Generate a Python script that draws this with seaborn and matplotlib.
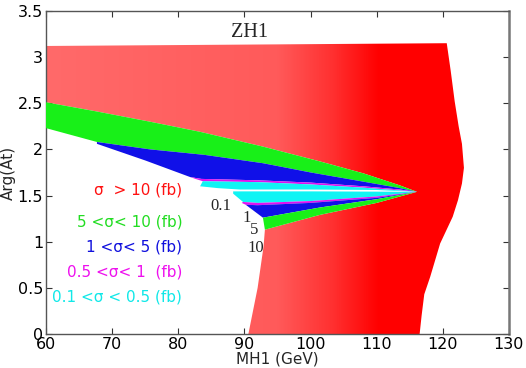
import numpy as np
import matplotlib
matplotlib.use("Agg")
import matplotlib.pyplot as plt
import seaborn as sns
from matplotlib.colors import LinearSegmentedColormap

# boundary curves (MH1 in GeV, Arg(At))
# outer edge of the red (> 10 fb) region
red_top_x = [60.0, 120.6]
red_top_y = [3.12, 3.15]
red_right_x = [121.2, 121.8, 122.4, 122.9, 123.2, 122.9, 122.3, 121.5, 119.6, 118.1, 117.2, 116.8, 116.5]
red_right_y = [2.85, 2.52, 2.25, 2.06, 1.80, 1.63, 1.45, 1.27, 0.98, 0.62, 0.43, 0.20, 0.00]
red_low_x = [90.6, 91.3, 92.0, 92.5, 92.9, 93.1]
red_low_y = [0.00, 0.25, 0.50, 0.75, 0.95, 1.13]

# upper band
up_green_top_x = [60.0, 67.7, 75.7, 83.3, 92.8, 101.4, 108.0, 113.5, 116.1]
up_green_top_y = [2.51, 2.41, 2.30, 2.19, 2.03, 1.87, 1.74, 1.61, 1.54]
up_green_bot_x = [60.0, 67.7, 75.7, 84.0, 92.8, 100.0, 108.0, 113.5, 116.1]
up_green_bot_y = [2.23, 2.08, 2.00, 1.94, 1.85, 1.75, 1.65, 1.58, 1.54]
up_blue_bot_x = [67.7, 75.0, 81.8, 83.5, 92.0, 100.0, 108.0, 113.5, 116.1]
up_blue_bot_y = [2.06, 1.88, 1.70, 1.68, 1.665, 1.64, 1.60, 1.565, 1.54]
up_mag_bot_x = [82.6, 83.7, 92.0, 100.0, 108.0, 113.5, 116.1]
up_mag_bot_y = [1.68, 1.655, 1.645, 1.62, 1.585, 1.555, 1.54]
up_cyan_bot_x = [83.3, 86.0, 89.3, 100.0, 110.0, 116.1]
up_cyan_bot_y = [1.60, 1.58, 1.565, 1.565, 1.56, 1.54]

# lower band
lo_cyan_top_x = [88.3, 100.0, 110.0, 116.1]
lo_cyan_top_y = [1.545, 1.545, 1.542, 1.54]
lo_cyan_bot_x = [88.3, 89.8, 92.0, 100.0, 110.0, 116.1]
lo_cyan_bot_y = [1.52, 1.43, 1.42, 1.44, 1.49, 1.54]
lo_mag_bot_x = [89.6, 90.2, 92.0, 100.0, 110.0, 116.1]
lo_mag_bot_y = [1.42, 1.40, 1.395, 1.42, 1.475, 1.54]
lo_blue_bot_x = [90.2, 92.8, 101.4, 110.0, 116.1]
lo_blue_bot_y = [1.40, 1.26, 1.37, 1.46, 1.54]
lo_green_bot_x = [92.8, 93.1, 101.4, 110.0, 116.1]
lo_green_bot_y = [1.26, 1.13, 1.29, 1.42, 1.54]

legend_labels = ["\u03c3  > 10 (fb)", "5 <\u03c3< 10 (fb)", "1 <\u03c3< 5 (fb)",
                 "0.5 <\u03c3< 1  (fb)", "0.1 <\u03c3 < 0.5 (fb)"]
legend_colors = ["#ff1010", "#22dd22", "#1010dd", "#ee10ee", "#10e8e8"]
legend_y = [1.56, 1.21, 0.94, 0.67, 0.40]

contour_labels = ["0.1", "1", "5", "10"]
contour_x = [86.5, 90.3, 91.4, 91.7]
contour_y = [1.39, 1.26, 1.13, 0.93]


def band(ax, top_x, top_y, bot_x, bot_y, color):
    px = list(top_x) + list(bot_x)[::-1]
    py = list(top_y) + list(bot_y)[::-1]
    return ax.fill(px, py, color=color, lw=0, zorder=3)


sns.set_theme(style="ticks")
plt.rcParams['font.family'] = ['DejaVu Sans']

fig = plt.figure(figsize=(5.26, 3.68), dpi=100)
ax = fig.add_axes([0.0875, 0.0924, 0.880, 0.878])

# red region: outer edge, then back along the outside of the bands
rx = red_top_x + red_right_x + red_low_x + lo_green_bot_x[1:] + up_green_top_x[::-1]
ry = red_top_y + red_right_y + red_low_y + lo_green_bot_y[1:] + up_green_top_y[::-1]
red_patch = ax.fill(rx, ry, facecolor="none", lw=0, zorder=2)[0]
cmap = LinearSegmentedColormap.from_list(
    "redfade", [(0.0, "#ff6a6a"), (0.5, "#ff5a5a"), (0.62, "#ff3030"), (0.72, "#ff0000"), (1.0, "#ff0000")])
grad = np.linspace(0, 1, 256).reshape(1, -1)
im = ax.imshow(grad, extent=[60, 130, 0, 3.5], aspect="auto", cmap=cmap, origin="lower", zorder=1)
im.set_clip_path(red_patch)

# upper band
band(ax, up_green_top_x, up_green_top_y, up_green_bot_x, up_green_bot_y, "#18f018")
band(ax, up_green_bot_x[1:], up_green_bot_y[1:], up_blue_bot_x, up_blue_bot_y, "#1010e8")
band(ax, up_blue_bot_x[2:], up_blue_bot_y[2:], up_mag_bot_x, up_mag_bot_y, "#e010f0")
band(ax, up_mag_bot_x[1:], up_mag_bot_y[1:], up_cyan_bot_x, up_cyan_bot_y, "#10f4f4")

# lower band
band(ax, lo_cyan_top_x, lo_cyan_top_y, lo_cyan_bot_x, lo_cyan_bot_y, "#10f4f4")
band(ax, lo_cyan_bot_x[1:], lo_cyan_bot_y[1:], lo_mag_bot_x, lo_mag_bot_y, "#e010f0")
band(ax, lo_mag_bot_x[1:], lo_mag_bot_y[1:], lo_blue_bot_x, lo_blue_bot_y, "#1010e8")
band(ax, lo_blue_bot_x[1:], lo_blue_bot_y[1:], lo_green_bot_x[1:], lo_green_bot_y[1:], "#18f018")

# labels
ax.text(90.7, 3.27, "ZH1", family="Liberation Serif", fontsize=14.5, ha="center", va="center", zorder=5)
for lab, col, yy in zip(legend_labels, legend_colors, legend_y):
    ax.text(80.6, yy, lab, color=col, fontsize=11, ha="right", va="center", zorder=5)
for lab, xx, yy in zip(contour_labels, contour_x, contour_y):
    ax.text(xx, yy, lab, family="Liberation Serif", fontsize=12, ha="center", va="center", zorder=5)

ax.set_xlim(60, 130)
ax.set_ylim(0, 3.5)
ax.set_xticks(np.arange(60, 131, 10))
ax.set_yticks(np.arange(0, 3.51, 0.5))
ax.set_yticklabels(["0", "0.5", "1", "1.5", "2", "2.5", "3", "3.5"])
ax.tick_params(direction="in", top=True, right=True, length=4, width=0.8,
               labelsize=11.5, pad=2, colors="#333333", labelcolor="black")
ax.set_xlabel("MH1 (GeV)", fontsize=11, labelpad=0)
ax.set_ylabel("Arg(At)", fontsize=11, labelpad=1)
for s in ax.spines.values():
    s.set_color("#555555")
    s.set_linewidth(1.0)
ax.spines["right"].set_linewidth(1.8)
ax.spines["right"].set_color("#777777")

fig.savefig("out.png", dpi=100)
